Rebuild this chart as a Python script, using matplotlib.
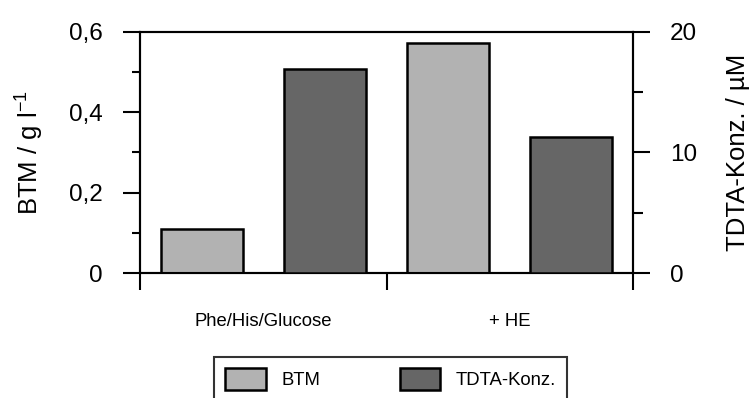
import matplotlib.pyplot as plt
from matplotlib.ticker import FixedLocator, NullFormatter

plt.rcParams['font.family'] = ['Liberation Sans', 'DejaVu Sans']
plt.rcParams['mathtext.fontset'] = 'custom'
plt.rcParams['mathtext.rm'] = 'Liberation Sans'
plt.rcParams['mathtext.default'] = 'regular'

# Daten
gruppen = ['Phe/His/Glucose', '+ HE']
btm = [0.110, 0.573]      # g/l
tdta = [16.9, 11.3]       # µM

btm_ticks = [0, 0.2, 0.4, 0.6]
btm_ticklabels = ['0', '0,2', '0,4', '0,6']
tdta_ticks = [0, 10, 20]
tdta_ticklabels = ['0', '10', '20']

hell = '#b2b2b2'
dunkel = '#666666'
lw = 1.5

fig = plt.figure(figsize=(7.5, 3.98), dpi=100)
ax = fig.add_axes([0.1867, 0.3133, 0.6573, 0.6071])
ax2 = ax.twinx()

x = list(range(len(gruppen)))
breite = 0.333
b1 = ax.bar([i - 0.25 for i in x], btm, breite, color=hell,
            edgecolor='black', linewidth=1.8, label='BTM', zorder=3)
b2 = ax2.bar([i + 0.25 for i in x], tdta, breite, color=dunkel,
             edgecolor='black', linewidth=1.8, label='TDTA-Konz.', zorder=3)

ax.set_xlim(-0.5, 1.5)
ax.set_ylim(0, 0.6)
ax2.set_ylim(0, 20)

# x-Achse: Striche an den Gruppengrenzen, Beschriftung in der Mitte
ax.xaxis.set_major_locator(FixedLocator([-0.5, 0.5, 1.5]))
ax.xaxis.set_major_formatter(NullFormatter())
ax.xaxis.set_minor_locator(FixedLocator(x))
ax.set_xticklabels(gruppen, minor=True, fontsize=13.3)
ax.tick_params(axis='x', which='major', direction='out', length=12, width=lw)
ax.tick_params(axis='x', which='minor', length=0, pad=28.5)

# linke Achse
ax.set_yticks(btm_ticks)
ax.set_yticklabels(btm_ticklabels, fontsize=17.5)
ax.yaxis.set_minor_locator(FixedLocator([0.1, 0.3, 0.5]))
ax.tick_params(axis='y', which='major', direction='out', length=12, width=lw, pad=15)
ax.tick_params(axis='y', which='minor', direction='out', length=6, width=lw)
ax.set_ylabel(r'BTM / g l$^{-1}$', fontsize=18.5)
ax.yaxis.set_label_coords(-0.19, 0.5)

# rechte Achse
ax2.set_yticks(tdta_ticks)
ax2.set_yticklabels(tdta_ticklabels, fontsize=17.5)
ax2.yaxis.set_minor_locator(FixedLocator([5, 15]))
ax2.tick_params(axis='y', which='major', direction='out', length=12, width=lw, pad=14.5)
ax2.tick_params(axis='y', which='minor', direction='out', length=7, width=lw)
ax2.set_ylabel('TDTA-Konz. / µM', fontsize=18.5)
ax2.yaxis.set_label_coords(1.189, 0.5)

for a in (ax, ax2):
    for s in a.spines.values():
        s.set_linewidth(lw)

leg = fig.legend(handles=[b1, b2], loc='upper left',
                 bbox_to_anchor=(214 / 750, 1 - 356.7 / 398),
                 ncol=2, fontsize=13.3, frameon=True, fancybox=False,
                 handlelength=2.2, handleheight=1.5, handletextpad=0.85,
                 columnspacing=4.3, borderpad=0.6, borderaxespad=0)
leg.get_frame().set_edgecolor('black')
leg.get_frame().set_linewidth(lw)

fig.savefig('out.png', dpi=100)
